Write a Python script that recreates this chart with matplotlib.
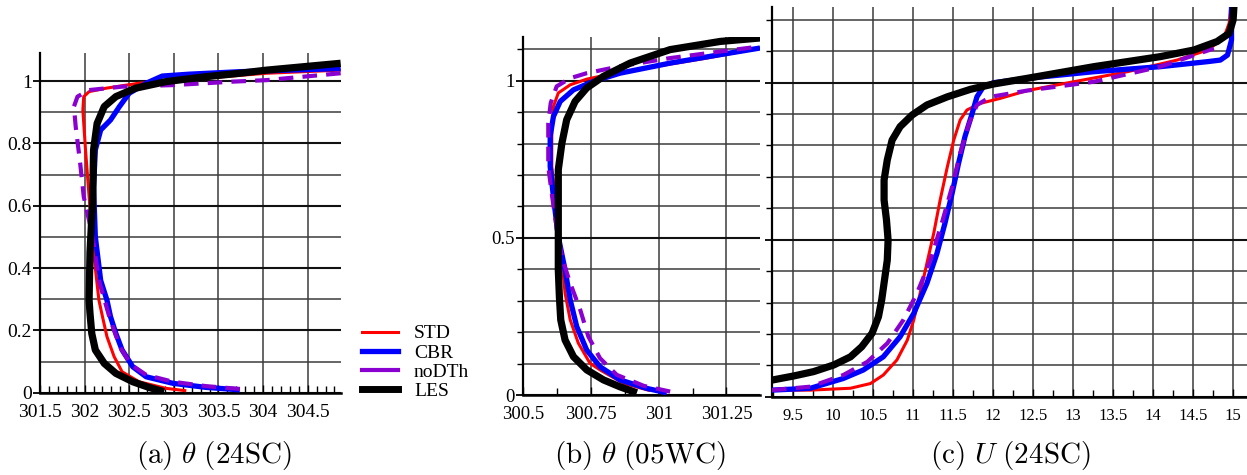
import numpy as np
import matplotlib.pyplot as plt
from matplotlib.lines import Line2D
from matplotlib.ticker import MultipleLocator, FuncFormatter

plt.rcParams['font.family'] = ['Liberation Serif', 'DejaVu Serif']
plt.rcParams['mathtext.fontset'] = 'cm'

# ---- (a) theta, 24SC ----
a_les_x = [302.89, 302.72, 302.54, 302.35, 302.22, 302.12, 302.08, 302.06, 302.05, 302.06, 302.09, 302.10, 302.14, 302.22, 302.35, 302.57, 302.91, 303.36, 303.74, 304.04, 304.87]
a_les_y = [0.003, 0.017, 0.035, 0.062, 0.094, 0.137, 0.19, 0.255, 0.297, 0.45, 0.618, 0.779, 0.864, 0.918, 0.95, 0.977, 0.998, 1.014, 1.025, 1.035, 1.057]
a_std_x = [303.14, 302.91, 302.61, 302.42, 302.33, 302.25, 302.20, 302.16, 302.10, 302.05, 302.01, 301.98, 301.99, 302.05, 302.24, 302.61, 303.29, 304.04, 304.87]
a_std_y = [0.006, 0.014, 0.035, 0.067, 0.116, 0.18, 0.244, 0.297, 0.45, 0.629, 0.779, 0.907, 0.95, 0.966, 0.977, 0.993, 1.008, 1.025, 1.035]
a_cbr_x = [303.74, 303.36, 302.99, 302.69, 302.54, 302.42, 302.35, 302.29, 302.25, 302.18, 302.12, 302.10, 302.12, 302.18, 302.29, 302.39, 302.50, 302.69, 302.87, 303.17, 303.74, 304.87]
a_cbr_y = [0.009, 0.017, 0.03, 0.051, 0.083, 0.137, 0.19, 0.244, 0.297, 0.36, 0.5, 0.66, 0.779, 0.843, 0.875, 0.918, 0.961, 0.993, 1.016, 1.022, 1.03, 1.04]
a_nod_x = [303.74, 303.36, 302.99, 302.69, 302.52, 302.40, 302.33, 302.27, 302.16, 302.09, 301.99, 301.95, 301.90, 301.88, 301.92, 302.05, 302.42, 302.99, 303.66, 304.04, 304.87]
a_nod_y = [0.012, 0.021, 0.035, 0.057, 0.09, 0.145, 0.2, 0.25, 0.36, 0.5, 0.629, 0.736, 0.853, 0.918, 0.95, 0.971, 0.982, 0.987, 0.998, 1.003, 1.025]

# ---- (b) theta, 05WC ----
b_les_x = [300.919, 300.857, 300.796, 300.734, 300.685, 300.654, 300.638, 300.633, 300.629, 300.629, 300.629, 300.642, 300.660, 300.691, 300.734, 300.796, 300.894, 301.042, 301.227, 301.374]
b_les_y = [0.007, 0.026, 0.048, 0.08, 0.122, 0.175, 0.239, 0.313, 0.398, 0.55, 0.717, 0.8, 0.876, 0.934, 0.977, 1.014, 1.056, 1.099, 1.125, 1.136]
b_std_x = [300.968, 300.87, 300.783, 300.746, 300.703, 300.673, 300.654, 300.646, 300.628, 300.605, 300.605, 300.611, 300.629, 300.673, 300.734, 300.783, 300.869, 300.993, 301.177, 301.374]
b_std_y = [0.014, 0.037, 0.08, 0.101, 0.165, 0.239, 0.324, 0.398, 0.55, 0.727, 0.844, 0.918, 0.961, 0.987, 1.005, 1.014, 1.026, 1.046, 1.072, 1.104]
b_cbr_x = [301.03, 300.956, 300.857, 300.783, 300.734, 300.697, 300.673, 300.654, 300.629, 300.611, 300.599, 300.599, 300.611, 300.636, 300.685, 300.759, 300.857, 301.042, 301.227, 301.374]
b_cbr_y = [0.007, 0.021, 0.048, 0.09, 0.143, 0.218, 0.303, 0.398, 0.504, 0.63, 0.727, 0.823, 0.886, 0.934, 0.971, 0.998, 1.024, 1.056, 1.083, 1.104]
b_nod_x = [301.042, 300.945, 300.845, 300.783, 300.74, 300.71, 300.673, 300.645, 300.625, 300.605, 300.592, 300.592, 300.601, 300.623, 300.673, 300.734, 300.857, 301.042, 301.227, 301.374]
b_nod_y = [0.011, 0.029, 0.064, 0.117, 0.186, 0.271, 0.356, 0.43, 0.52, 0.64, 0.727, 0.865, 0.929, 0.982, 1.008, 1.024, 1.046, 1.072, 1.093, 1.109]

# ---- (c) U, 24SC ----
c_les_x = [9.24, 9.51, 9.76, 10.01, 10.22, 10.36, 10.49, 10.57, 10.61, 10.68, 10.69, 10.67, 10.64, 10.64, 10.68, 10.74, 10.84, 10.99, 11.175, 11.43, 11.72, 12.01, 12.43, 13.26, 14.09, 14.51, 14.80, 14.95, 15.0, 15.01]
c_les_y = [0.053, 0.066, 0.08, 0.101, 0.127, 0.159, 0.202, 0.255, 0.308, 0.435, 0.499, 0.563, 0.626, 0.69, 0.754, 0.817, 0.86, 0.897, 0.929, 0.955, 0.979, 0.996, 1.014, 1.051, 1.083, 1.104, 1.131, 1.157, 1.2, 1.242]
c_std_x = [9.24, 9.72, 10.22, 10.47, 10.63, 10.80, 10.93, 11.01, 11.09, 11.175, 11.26, 11.34, 11.43, 11.51, 11.59, 11.675, 11.84, 12.09, 12.43, 13.05, 13.68, 14.30, 14.68, 14.88, 14.95, 14.97]
c_std_y = [0.021, 0.021, 0.027, 0.042, 0.069, 0.117, 0.18, 0.244, 0.329, 0.425, 0.52, 0.626, 0.732, 0.817, 0.881, 0.913, 0.934, 0.95, 0.975, 1.005, 1.035, 1.072, 1.104, 1.141, 1.189, 1.242]
c_cbr_x = [9.24, 9.72, 10.13, 10.38, 10.63, 10.84, 11.01, 11.175, 11.30, 11.40, 11.49, 11.57, 11.65, 11.74, 11.80, 11.88, 12.01, 12.43, 13.26, 14.09, 14.68, 14.84, 14.93, 14.98, 14.98]
c_cbr_y = [0.021, 0.027, 0.058, 0.085, 0.127, 0.191, 0.265, 0.361, 0.456, 0.552, 0.648, 0.743, 0.828, 0.902, 0.955, 0.987, 1.0, 1.014, 1.035, 1.051, 1.067, 1.072, 1.088, 1.136, 1.242]
c_nod_x = [9.24, 9.72, 10.13, 10.43, 10.68, 10.88, 11.05, 11.22, 11.36, 11.49, 11.59, 11.70, 11.80, 11.97, 12.43, 13.26, 14.09, 14.76]
c_nod_y = [0.021, 0.032, 0.069, 0.111, 0.17, 0.244, 0.329, 0.435, 0.552, 0.669, 0.775, 0.87, 0.929, 0.955, 0.975, 1.003, 1.051, 1.109]

labels = ['STD', 'CBR', 'noDTh', 'LES']
colors = ['#ff0000', '#0000ff', '#8a00d0', '#000000']
widths = [2.2, 3.8, 3.0, 5.2]
captions = [r'$\mathrm{(a)}\ \theta\ \mathrm{(24SC)}$',
            r'$\mathrm{(b)}\ \theta\ \mathrm{(05WC)}$',
            r'$\mathrm{(c)}\ U\ \mathrm{(24SC)}$']

fig = plt.figure(figsize=(12.47, 4.75), dpi=100)

panels = [
    dict(rect=[0.0321, 0.1733, 0.2411, 0.7158], xlim=(301.5, 304.87), ylim=(0, 1.091),
         xmaj=0.5, xmin=0.1, ymaj=0.2, ymin=0.1, ylab=True, ytick_minor=False, fs=14,
         data=[(a_std_x, a_std_y), (a_cbr_x, a_cbr_y), (a_nod_x, a_nod_y), (a_les_x, a_les_y)]),
    dict(rect=[0.4197, 0.1684, 0.1898, 0.7543], xlim=(300.5, 301.374), ylim=(0, 1.14),
         xmaj=0.25, xmin=0.125, ymaj=0.5, ymin=0.1, ylab=True, ytick_minor=True, fs=13.5,
         data=[(b_std_x, b_std_y), (b_cbr_x, b_cbr_y), (b_nod_x, b_nod_y), (b_les_x, b_les_y)]),
    dict(rect=[0.6189, 0.1648, 0.3812, 0.8211], xlim=(9.237, 15.175), ylim=(0, 1.242),
         xmaj=0.5, xmin=0.25, ymaj=0.5, ymin=0.1, ylab=False, ytick_minor=True, fs=12,
         data=[(c_std_x, c_std_y), (c_cbr_x, c_cbr_y), (c_nod_x, c_nod_y), (c_les_x, c_les_y)]),
]
caption_x = [0.172, 0.513, 0.810]

fmt = FuncFormatter(lambda v, p: '%g' % round(v, 3))

for k, p in enumerate(panels):
    ax = fig.add_axes(p['rect'])
    for i in [1, 0, 2, 3]:  # blue under red, dashed and LES on top
        x, y = p['data'][i]
        ls = (0, (3.5, 2.2)) if labels[i] == 'noDTh' else '-'
        ax.plot(x, y, color=colors[i], lw=widths[i], ls=ls, solid_capstyle='butt',
                solid_joinstyle='round', dash_joinstyle='round', zorder=3 + i)
    ax.set_xlim(*p['xlim'])
    ax.set_ylim(*p['ylim'])
    ax.xaxis.set_major_locator(MultipleLocator(p['xmaj']))
    ax.xaxis.set_minor_locator(MultipleLocator(p['xmin']))
    ax.yaxis.set_major_locator(MultipleLocator(p['ymaj']))
    ax.yaxis.set_minor_locator(MultipleLocator(p['ymin']))
    ax.xaxis.set_major_formatter(fmt)
    ax.yaxis.set_major_formatter(fmt if p['ylab'] else FuncFormatter(lambda v, q: ''))
    ax.grid(axis='x', which='major', color='#3c3c3c', lw=1.1)
    ax.grid(axis='y', which='minor', color='#3c3c3c', lw=1.1)
    ax.grid(axis='y', which='major', color='#111111', lw=1.5)
    for s in ['top', 'right']:
        ax.spines[s].set_visible(False)
    ax.spines['left'].set_linewidth(1.6)
    ax.spines['bottom'].set_linewidth(1.8)
    ax.tick_params(axis='x', which='both', direction='in', labelsize=p['fs'], pad=8)
    ax.tick_params(axis='x', which='major', length=6, width=1.0)
    ax.tick_params(axis='x', which='minor', length=5, width=1.0)
    ax.tick_params(axis='y', which='major', direction='out', length=5, width=1.3,
                   labelsize=p['fs'], pad=1)
    ax.tick_params(axis='y', which='minor', direction='out',
                   length=4 if p['ytick_minor'] else 0, width=1.0)
    ax.set_axisbelow(True)
    fig.text(caption_x[k], 0.042, captions[k], ha='center', va='center', fontsize=21)

handles = [Line2D([], [], color=colors[i], lw=widths[i] if i < 3 else 5) for i in range(4)]
fig.legend(handles, labels, loc='upper left', bbox_to_anchor=(0.279, 0.345), frameon=False,
           fontsize=14, handlelength=1.9, handletextpad=0.8, labelspacing=0.08, borderpad=0.2)

fig.savefig('out.png', dpi=100)
